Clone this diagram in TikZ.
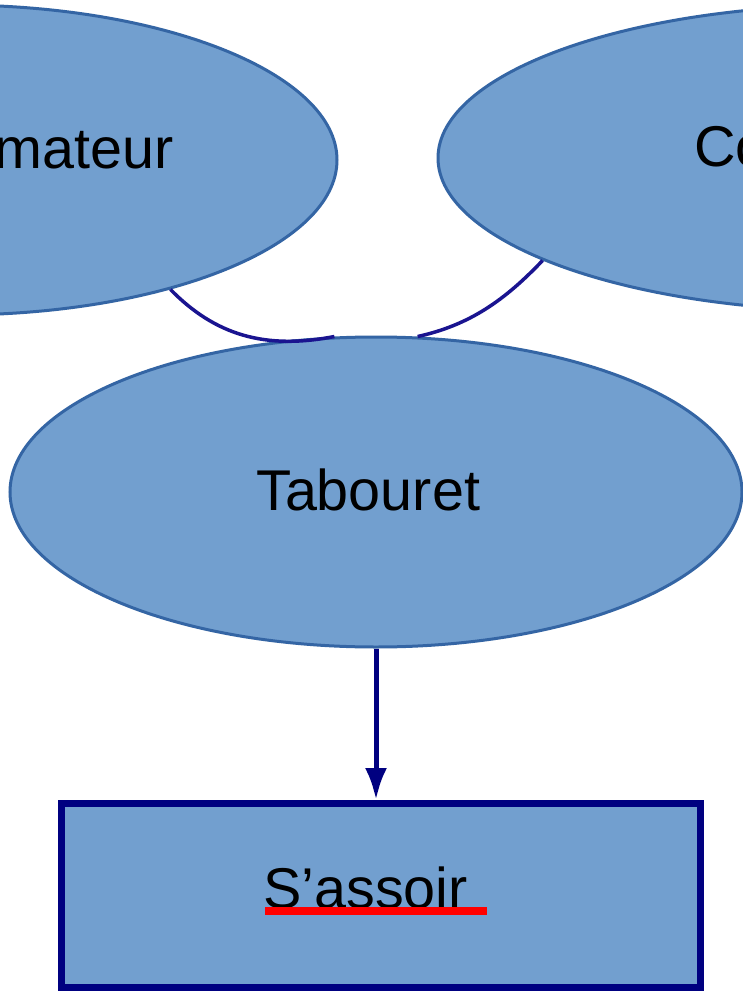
\documentclass[tikz,border=0pt]{standalone}
\usepackage{fontspec}
\setmainfont{Liberation Sans}
\usetikzlibrary{shapes.geometric,arrows.meta}
\definecolor{sky}{HTML}{729FCF}
\definecolor{edgeblue}{HTML}{3465A4}
\definecolor{navyc}{HTML}{000080}
\definecolor{linkc}{HTML}{1A1490}
\begin{document}
\begin{tikzpicture}[x=1pt,y=-1pt,
  blob/.style={ellipse, draw=edgeblue, fill=sky, line width=3pt, inner sep=0pt},
  lbl/.style={inner sep=0pt, font=\fontsize{57.5}{69}\selectfont, text=black},
  link/.style={draw=linkc, line width=3.5pt},
  ]
\useasboundingbox (0,0) rectangle (743,1000);
\clip (0,0) rectangle (743,1000);
\fill[white] (0,0) rectangle (743,1000);
\node[blob, minimum width=764pt, minimum height=310pt] (cons) at (-45,160) {};
\node[blob, minimum width=840pt, minimum height=306pt] (conc) at (858,158) {};
\node[blob, minimum width=732pt, minimum height=310pt] (tab) at (376,492) {};
\node[rectangle, draw=navyc, fill=sky, line width=7pt, minimum width=639pt, minimum height=184pt, inner sep=0pt] (sas) at (381,895.5) {};
\node[lbl, anchor=base east] (consl) at (174,169) {Consommateur};
\node[lbl, anchor=base west] (concl) at (694,167) {Concepteur};
\node[lbl, anchor=base west] (tabl) at (256,510) {Tabouret};
\node[lbl, anchor=base west] (sasl) at (263,908) {S'assoir};
\draw[link] (cons.-31) .. controls (215,335) and (265,350) .. (tab.105);
\draw[link] (conc.-162) .. controls (505,300) and (470,325) .. (tab.75);
\draw[navyc, line width=5pt, -{Latex[length=32pt,width=22pt]}] (tab.south) -- (tab.south |- sas.north);
\fill[red] (265,907) rectangle (487,915);
\end{tikzpicture}
\end{document}
